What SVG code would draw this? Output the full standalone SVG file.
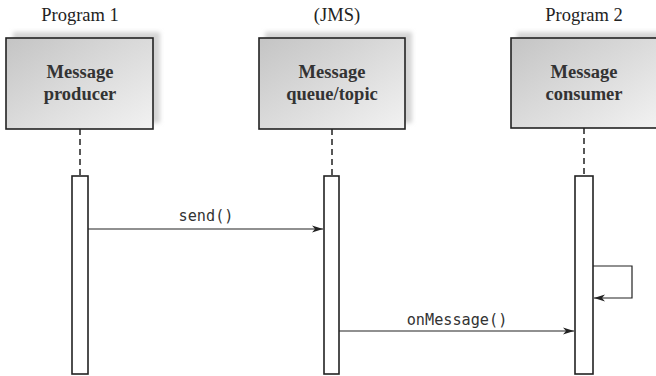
<svg xmlns="http://www.w3.org/2000/svg" width="656" height="376" viewBox="0 0 656 376">
<style>
.title{font-family:"Liberation Serif",serif;font-size:18.5px;fill:#222;text-anchor:middle}
.box{fill:url(#g);stroke:#222;stroke-width:1.6}
.shadow{fill:#d4d4d4;filter:url(#blur)}
.btxt{font-family:"Liberation Serif",serif;font-size:18.5px;font-weight:bold;fill:#333;text-anchor:middle}
.life{stroke:#222;stroke-width:1.5;stroke-dasharray:6,4;fill:none}
.bar{fill:#fff;stroke:#222;stroke-width:1.6}
.msg{stroke:#222;stroke-width:1.2;fill:none;marker-end:url(#ah)}
.mtxt{font-family:"DejaVu Sans Mono","Liberation Mono",monospace;font-size:15.2px;fill:#333;text-anchor:middle}
</style>
<defs>
<linearGradient id="g" x1="0" y1="0" x2="1" y2="1">
<stop offset="0" stop-color="#c4c4c4"/>
<stop offset="1" stop-color="#f2f2f2"/>
</linearGradient>
<filter id="blur" x="-10%" y="-10%" width="120%" height="120%"><feGaussianBlur stdDeviation="2"/></filter>
<marker id="ah" markerWidth="12" markerHeight="8" refX="11" refY="4" orient="auto" markerUnits="userSpaceOnUse">
<path d="M0,0.5 L11,4 L0,7.5 L3,4 Z" fill="#222"/>
</marker>
</defs>
<rect width="656" height="376" fill="#fff"/>
<g id="producer">
<text class="title" x="80" y="21">Program 1</text>
<rect class="shadow" x="13" y="32" width="147" height="91"/>
<rect class="box" x="6" y="38" width="147" height="91"/>
<text class="btxt" x="80" y="78">Message</text>
<text class="btxt" x="80" y="100">producer</text>
<line class="life" x1="80" y1="129" x2="80" y2="176"/>
<rect class="bar" x="72" y="176" width="16" height="198"/>
</g>
<g id="queue">
<text class="title" x="337" y="21">(JMS)</text>
<rect class="shadow" x="265" y="32" width="147" height="91"/>
<rect class="box" x="259" y="38" width="146" height="91"/>
<text class="btxt" x="332" y="78">Message</text>
<text class="btxt" x="332" y="100">queue/topic</text>
<line class="life" x1="332" y1="129" x2="332" y2="176"/>
<rect class="bar" x="324" y="176" width="15" height="198"/>
</g>
<g id="consumer">
<text class="title" x="584" y="21">Program 2</text>
<rect class="shadow" x="517" y="32" width="147" height="91"/>
<rect class="box" x="511" y="38" width="147" height="90"/>
<text class="btxt" x="584" y="78">Message</text>
<text class="btxt" x="584" y="100">consumer</text>
<line class="life" x1="584" y1="128" x2="584" y2="176"/>
<rect class="bar" x="575" y="176" width="18" height="198"/>
</g>
<g id="connectors">
<line class="msg" x1="88" y1="229" x2="323" y2="229"/>
<text class="mtxt" x="206" y="221">send()</text>
<line class="msg" x1="339" y1="331" x2="574" y2="331"/>
<text class="mtxt" x="457" y="325">onMessage()</text>
<polyline class="msg" points="593,266 632,266 632,298 594,298"/>
</g>
</svg>
